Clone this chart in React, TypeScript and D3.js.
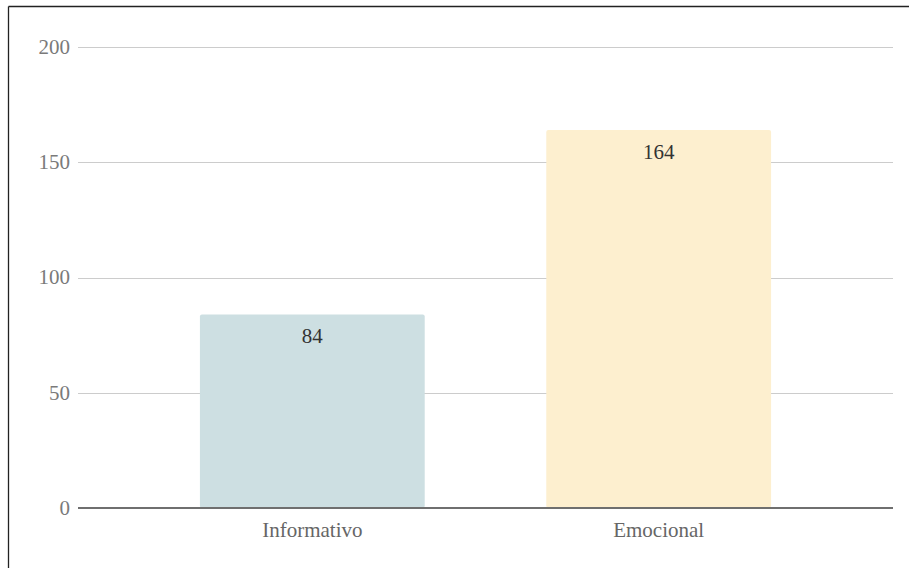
import React from "react";
import * as d3 from "d3";

const categories = ["Informativo", "Emocional"];
const values = [84, 164];
const barColors = ["#cddfe2", "#fdefcf"];
const yTicks = [0, 50, 100, 150, 200];

export default function App() {
  const W = 909;
  const H = 568;
  const left = 78;
  const right = 893;
  const top = 47;
  const bottom = 508;

  const x = d3.scaleBand<string>().domain(categories).range([left, right]).paddingInner(0.351).paddingOuter(0.352);
  const y = d3.scaleLinear().domain([0, 200]).range([bottom, top]);

  return (
    <svg width={W} height={H} style={{ position: "absolute", left: 0, top: 0, display: "block" }}>
      <rect x={0} y={0} width={W} height={H} fill="#fff" />
      <line x1={8.5} y1={6.5} x2={W} y2={6.5} stroke="#222" strokeWidth={1.3} />
      <line x1={8.5} y1={6.5} x2={8.5} y2={H} stroke="#222" strokeWidth={1.3} />
      {yTicks.map((t) => (
        <g key={t}>
          {t !== 0 && (
            <line x1={left} x2={right} y1={Math.round(y(t)) + 0.5} y2={Math.round(y(t)) + 0.5} stroke="#cccccc" strokeWidth={1} />
          )}
          <text
            x={left - 8}
            y={y(t)}
            dy="0.33em"
            textAnchor="end"
            fontFamily="'Liberation Serif', 'Times New Roman', serif"
            fontSize={21}
            fill="#7a7a7a"
          >
            {t}
          </text>
        </g>
      ))}
      {categories.map((c, i) => {
        const bx = x(c)!;
        const bw = x.bandwidth();
        const by = y(values[i]);
        return (
          <g key={c}>
            <rect x={bx} y={by} width={bw} height={y(0) - by} rx={2} ry={2} fill={barColors[i]} />
            <text
              x={bx + bw / 2}
              y={by + 29}
              textAnchor="middle"
              fontFamily="'Liberation Serif', 'Times New Roman', serif"
              fontSize={21}
              fill="#333"
            >
              {values[i]}
            </text>
            <text
              x={bx + bw / 2}
              y={537}
              textAnchor="middle"
              fontFamily="'Liberation Serif', 'Times New Roman', serif"
              fontSize={21}
              fill="#666"
            >
              {c}
            </text>
          </g>
        );
      })}
      <line x1={left} x2={right} y1={bottom} y2={bottom} stroke="#6f6f6f" strokeWidth={2} />
    </svg>
  );
}
